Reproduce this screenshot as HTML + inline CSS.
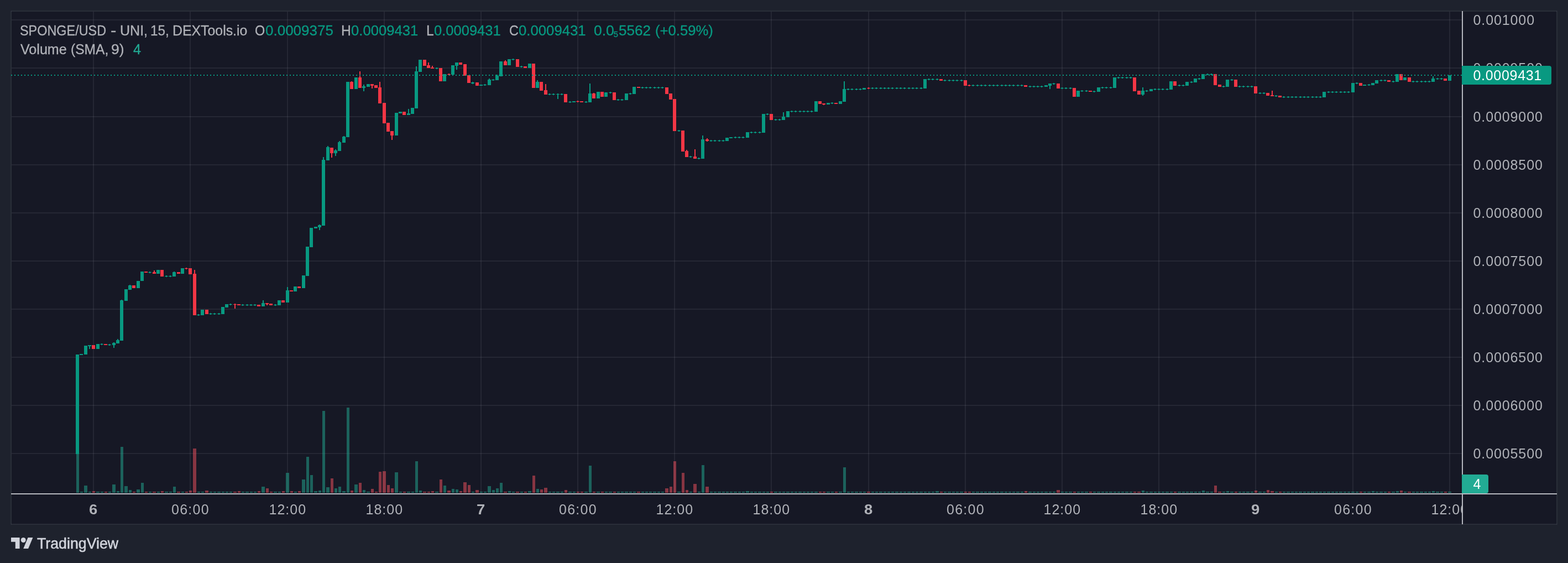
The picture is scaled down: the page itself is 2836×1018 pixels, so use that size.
<!DOCTYPE html>
<html lang="en"><head><meta charset="utf-8"><title>SPONGE/USD - TradingView</title>
<style>
html,body{margin:0;padding:0;background:#1e222d;}
body{width:2836px;height:1018px;position:relative;overflow:hidden;font-family:"Liberation Sans",sans-serif;}
.chart{position:absolute;left:0;top:0;display:block}
.t{position:absolute;white-space:nowrap;color:#b0b2b8;line-height:1;font-size:25px;transform-origin:0 0}
.legend .t{-webkit-text-stroke:0.3px currentColor}
.ax{letter-spacing:0.9px}
.tm.b{font-weight:bold}
.timeaxis{position:absolute;left:20px;top:894px;width:2624px;height:53px;overflow:hidden}
.timeaxis .t{margin-left:-20px;margin-top:-894px}
.lab{position:absolute;left:2644px;height:34px;border-radius:0 4px 4px 0}
.lab .t{color:#fff;top:5px;left:20.5px}
#plab{top:119px;width:162px;background:#089981}
#vlab{top:858px;width:48px;background:#22ab94}
.tv{color:#d1d4dc}
</style></head><body>
<svg class="chart" width="2836" height="1018" viewBox="0 0 2836 1018" shape-rendering="crispEdges">
<rect x="19" y="19" width="2798" height="930" fill="#161825"/>
<path d="M19 19h2798v930h-2798zM21 21v926h2794v-926z" fill="#2a2e39" fill-rule="evenodd"/>
<path d="M20 20h1v1h-1zM2815 20h1v1h-1zM20 947h1v1h-1zM2815 947h1v1h-1z" fill="#3a3d4a"/>
<path d="M19 19h1v1h-1zM2816 19h1v1h-1zM19 948h1v1h-1zM2816 948h1v1h-1z" fill="#242833"/>
<path d="M21 36H2644M21 123H2644M21 211H2644M21 298H2644M21 385H2644M21 472H2644M21 559H2644M21 646H2644M21 733H2644M21 820H2644" stroke="#f0f3fa" stroke-opacity="0.07" stroke-width="2" fill="none"/>
<path d="M169 21V892M344 21V892M520 21V892M695 21V892M870 21V892M1045 21V892M1220 21V892M1395 21V892M1571 21V892M1746 21V892M1921 21V892M2096 21V892M2271 21V892M2447 21V892M2622 21V892" stroke="#f0f3fa" stroke-opacity="0.07" stroke-width="2" fill="none"/>
<path d="M138 761h5v130h-5zM145 889h5v2h-5zM152 878h6v13h-6zM160 889h5v2h-5zM174 889h6v2h-6zM182 889h5v2h-5zM196 889h5v2h-5zM203 876h6v15h-6zM211 888h5v3h-5zM218 808h5v83h-5zM225 879h6v12h-6zM233 886h5v5h-5zM247 885h6v6h-6zM255 873h5v18h-5zM269 889h5v2h-5zM284 889h5v2h-5zM298 889h6v2h-6zM306 889h5v2h-5zM313 880h5v11h-5zM328 889h5v2h-5zM357 889h5v2h-5zM364 889h5v2h-5zM379 889h5v2h-5zM386 889h5v2h-5zM393 889h6v2h-6zM401 889h5v2h-5zM408 889h5v2h-5zM415 889h5v2h-5zM437 889h5v2h-5zM444 889h6v2h-6zM452 889h5v2h-5zM459 889h5v2h-5zM473 880h6v11h-6zM495 889h6v2h-6zM503 889h5v2h-5zM517 855h6v36h-6zM532 889h5v2h-5zM546 867h6v24h-6zM554 826h5v65h-5zM561 859h5v32h-5zM568 888h6v3h-6zM576 887h5v4h-5zM583 743h5v148h-5zM590 881h6v10h-6zM605 883h5v8h-5zM612 880h5v11h-5zM619 888h6v3h-6zM627 737h5v154h-5zM641 876h6v15h-6zM656 886h5v5h-5zM663 889h6v2h-6zM714 854h6v37h-6zM722 889h5v2h-5zM736 889h6v2h-6zM744 889h5v2h-5zM751 834h5v57h-5zM758 887h5v4h-5zM787 889h6v2h-6zM802 878h5v13h-5zM817 884h5v7h-5zM824 885h5v6h-5zM853 889h5v2h-5zM868 889h5v2h-5zM875 889h5v2h-5zM882 879h6v12h-6zM890 886h5v5h-5zM897 883h5v8h-5zM904 873h5v18h-5zM919 888h5v3h-5zM926 889h5v2h-5zM941 889h5v2h-5zM955 888h6v3h-6zM970 884h5v7h-5zM992 889h5v2h-5zM999 889h5v2h-5zM1006 889h6v2h-6zM1014 889h5v2h-5zM1028 889h6v2h-6zM1036 889h5v2h-5zM1057 889h6v2h-6zM1065 842h5v49h-5zM1079 889h6v2h-6zM1094 889h5v2h-5zM1101 889h6v2h-6zM1116 889h5v2h-5zM1123 889h5v2h-5zM1130 889h6v2h-6zM1138 889h5v2h-5zM1145 889h5v2h-5zM1160 889h5v2h-5zM1167 889h5v2h-5zM1174 889h5v2h-5zM1181 889h6v2h-6zM1189 889h5v2h-5zM1196 889h5v2h-5zM1225 889h6v2h-6zM1247 889h5v2h-5zM1262 889h5v2h-5zM1269 841h5v50h-5zM1284 889h5v2h-5zM1291 889h5v2h-5zM1298 889h6v2h-6zM1306 889h5v2h-5zM1313 889h5v2h-5zM1320 889h5v2h-5zM1327 889h6v2h-6zM1335 889h5v2h-5zM1342 889h5v2h-5zM1349 888h6v3h-6zM1357 889h5v2h-5zM1364 889h5v2h-5zM1371 889h6v2h-6zM1379 889h5v2h-5zM1386 889h5v2h-5zM1400 889h6v2h-6zM1408 889h5v2h-5zM1415 889h5v2h-5zM1422 889h6v2h-6zM1430 889h5v2h-5zM1437 889h5v2h-5zM1444 889h6v2h-6zM1452 889h5v2h-5zM1459 889h5v2h-5zM1466 889h5v2h-5zM1473 889h6v2h-6zM1495 889h6v2h-6zM1503 889h5v2h-5zM1517 889h6v2h-6zM1525 845h5v46h-5zM1532 889h5v2h-5zM1539 889h5v2h-5zM1546 889h6v2h-6zM1554 889h5v2h-5zM1561 889h5v2h-5zM1576 889h5v2h-5zM1583 889h5v2h-5zM1590 889h6v2h-6zM1598 889h5v2h-5zM1605 889h5v2h-5zM1612 889h5v2h-5zM1619 889h6v2h-6zM1627 889h5v2h-5zM1634 889h5v2h-5zM1641 889h6v2h-6zM1649 889h5v2h-5zM1656 889h5v2h-5zM1663 889h6v2h-6zM1671 889h5v2h-5zM1678 889h5v2h-5zM1685 889h5v2h-5zM1692 888h6v3h-6zM1707 889h5v2h-5zM1714 889h6v2h-6zM1722 889h5v2h-5zM1729 889h5v2h-5zM1736 889h6v2h-6zM1758 889h5v2h-5zM1765 889h6v2h-6zM1773 889h5v2h-5zM1780 889h5v2h-5zM1787 889h6v2h-6zM1795 889h5v2h-5zM1802 889h5v2h-5zM1809 889h6v2h-6zM1817 889h5v2h-5zM1824 889h5v2h-5zM1831 889h5v2h-5zM1838 889h6v2h-6zM1846 889h5v2h-5zM1860 889h6v2h-6zM1868 889h5v2h-5zM1875 889h5v2h-5zM1882 889h5v2h-5zM1889 889h6v2h-6zM1897 889h5v2h-5zM1904 889h5v2h-5zM1919 889h5v2h-5zM1926 889h5v2h-5zM1933 889h6v2h-6zM1948 889h5v2h-5zM1955 889h5v2h-5zM1962 889h6v2h-6zM1977 889h5v2h-5zM1984 889h6v2h-6zM1992 889h5v2h-5zM1999 889h5v2h-5zM2006 889h6v2h-6zM2014 889h5v2h-5zM2021 889h5v2h-5zM2028 889h5v2h-5zM2035 889h6v2h-6zM2043 889h5v2h-5zM2065 887h5v4h-5zM2072 889h5v2h-5zM2079 889h6v2h-6zM2087 889h5v2h-5zM2094 889h5v2h-5zM2101 889h5v2h-5zM2108 889h6v2h-6zM2116 889h5v2h-5zM2130 889h6v2h-6zM2138 889h5v2h-5zM2145 889h5v2h-5zM2152 889h6v2h-6zM2160 889h5v2h-5zM2167 889h5v2h-5zM2174 887h5v4h-5zM2181 889h6v2h-6zM2189 889h5v2h-5zM2211 889h5v2h-5zM2218 888h5v3h-5zM2225 889h6v2h-6zM2240 889h5v2h-5zM2247 889h5v2h-5zM2254 889h6v2h-6zM2262 889h5v2h-5zM2276 889h6v2h-6zM2284 889h5v2h-5zM2306 889h5v2h-5zM2320 889h5v2h-5zM2327 889h6v2h-6zM2335 889h5v2h-5zM2342 889h5v2h-5zM2349 889h6v2h-6zM2357 889h5v2h-5zM2364 889h5v2h-5zM2371 889h6v2h-6zM2379 889h5v2h-5zM2386 889h5v2h-5zM2393 889h5v2h-5zM2400 889h6v2h-6zM2408 889h5v2h-5zM2415 889h5v2h-5zM2422 889h6v2h-6zM2430 889h5v2h-5zM2437 889h5v2h-5zM2444 889h6v2h-6zM2452 889h5v2h-5zM2466 889h5v2h-5zM2473 889h6v2h-6zM2481 888h5v3h-5zM2488 889h5v2h-5zM2495 889h6v2h-6zM2503 889h5v2h-5zM2517 889h6v2h-6zM2525 888h5v3h-5zM2539 889h5v2h-5zM2554 889h5v2h-5zM2561 889h5v2h-5zM2568 889h6v2h-6zM2576 889h5v2h-5zM2583 889h5v2h-5zM2590 888h5v3h-5zM2597 889h6v2h-6zM2605 889h5v2h-5zM2619 889h6v2h-6z" fill="#22ab94" fill-opacity="0.5"/>
<path d="M167 888h5v3h-5zM189 889h5v2h-5zM240 889h5v2h-5zM262 889h5v2h-5zM276 889h6v2h-6zM291 888h5v3h-5zM320 889h6v2h-6zM335 889h5v2h-5zM342 887h5v4h-5zM349 811h6v80h-6zM371 887h6v4h-6zM422 889h6v2h-6zM430 888h5v3h-5zM466 888h5v3h-5zM481 883h5v8h-5zM488 889h5v2h-5zM510 888h5v3h-5zM525 888h5v3h-5zM539 888h5v3h-5zM598 865h5v26h-5zM634 887h5v4h-5zM649 873h5v18h-5zM671 884h5v7h-5zM678 889h5v2h-5zM685 853h5v38h-5zM692 852h6v39h-6zM700 877h5v14h-5zM707 883h5v8h-5zM729 889h5v2h-5zM765 889h6v2h-6zM773 889h5v2h-5zM780 888h5v3h-5zM795 867h5v24h-5zM809 887h6v4h-6zM831 888h5v3h-5zM838 872h6v19h-6zM846 877h5v14h-5zM860 886h6v5h-6zM911 889h6v2h-6zM933 889h6v2h-6zM948 889h5v2h-5zM963 860h5v31h-5zM977 885h5v6h-5zM984 882h6v9h-6zM1021 886h5v5h-5zM1043 889h5v2h-5zM1050 889h5v2h-5zM1072 889h5v2h-5zM1087 889h5v2h-5zM1109 889h5v2h-5zM1152 889h6v2h-6zM1203 883h6v8h-6zM1211 880h5v11h-5zM1218 834h5v57h-5zM1233 855h5v36h-5zM1240 886h5v5h-5zM1254 875h6v16h-6zM1276 880h6v11h-6zM1393 889h5v2h-5zM1481 889h5v2h-5zM1488 889h5v2h-5zM1510 889h5v2h-5zM1568 889h6v2h-6zM1700 889h5v2h-5zM1744 889h5v2h-5zM1751 889h5v2h-5zM1853 888h5v3h-5zM1911 886h6v5h-6zM1941 889h5v2h-5zM1970 889h5v2h-5zM2050 889h5v2h-5zM2057 889h6v2h-6zM2123 889h5v2h-5zM2196 878h5v13h-5zM2203 889h6v2h-6zM2233 889h5v2h-5zM2269 887h5v4h-5zM2291 886h5v5h-5zM2298 888h6v3h-6zM2313 889h5v2h-5zM2459 889h5v2h-5zM2510 889h5v2h-5zM2532 887h5v4h-5zM2546 889h6v2h-6zM2612 889h5v2h-5z" fill="#f7525f" fill-opacity="0.5"/>
<path d="M137 641h6v180h-6zM144 640h6v2h-6zM152 625h6v16h-6zM159 624h6v2h-6zM161 626h2v5h-2zM174 622h6v9h-6zM181 622h6v1h-6zM183 621h2v3h-2zM195 623h6v1h-6zM197 622h2v3h-2zM203 620h6v4h-6zM205 619h2v1h-2zM205 624h2v5h-2zM210 615h6v6h-6zM212 613h2v2h-2zM217 543h6v73h-6zM219 542h2v1h-2zM225 523h6v21h-6zM232 516h6v8h-6zM234 515h2v1h-2zM247 508h6v13h-6zM254 491h6v17h-6zM268 492h6v1h-6zM270 491h2v3h-2zM283 488h6v7h-6zM298 499h6v1h-6zM300 498h2v3h-2zM305 499h6v1h-6zM307 498h2v3h-2zM312 492h6v8h-6zM314 491h2v1h-2zM327 485h6v10h-6zM356 569h6v1h-6zM358 568h2v3h-2zM363 560h6v10h-6zM378 567h6v1h-6zM380 566h2v3h-2zM385 567h6v1h-6zM387 566h2v3h-2zM393 567h6v1h-6zM395 566h2v3h-2zM400 555h6v13h-6zM407 550h6v6h-6zM414 550h6v1h-6zM416 549h2v3h-2zM436 551h6v1h-6zM438 550h2v3h-2zM444 551h6v1h-6zM446 550h2v3h-2zM451 551h6v1h-6zM453 550h2v3h-2zM458 551h6v1h-6zM460 550h2v3h-2zM473 548h6v6h-6zM475 543h2v5h-2zM495 551h6v1h-6zM497 550h2v3h-2zM502 543h6v9h-6zM517 525h6v22h-6zM519 519h2v6h-2zM531 518h6v9h-6zM546 498h6v23h-6zM553 446h6v53h-6zM560 412h6v35h-6zM568 410h6v3h-6zM575 407h6v4h-6zM577 406h2v1h-2zM577 411h2v5h-2zM582 289h6v119h-6zM584 284h2v5h-2zM590 266h6v24h-6zM592 264h2v2h-2zM604 272h6v5h-6zM606 270h2v2h-2zM606 277h2v5h-2zM611 257h6v16h-6zM613 255h2v2h-2zM619 247h6v11h-6zM621 246h2v1h-2zM626 148h6v100h-6zM641 140h6v21h-6zM655 156h6v3h-6zM657 153h2v3h-2zM657 159h2v6h-2zM663 152h6v5h-6zM714 204h6v41h-6zM721 202h6v3h-6zM736 205h6v3h-6zM738 197h2v8h-2zM743 195h6v11h-6zM750 129h6v67h-6zM752 120h2v9h-2zM757 108h6v22h-6zM787 123h6v1h-6zM789 122h2v3h-2zM801 134h6v13h-6zM816 118h6v17h-6zM823 113h6v6h-6zM825 119h2v7h-2zM852 149h6v2h-6zM854 148h2v1h-2zM854 151h2v1h-2zM867 153h6v2h-6zM874 153h6v1h-6zM876 152h2v3h-2zM882 144h6v10h-6zM884 142h2v2h-2zM889 144h6v1h-6zM891 143h2v3h-2zM896 137h6v8h-6zM898 135h2v2h-2zM903 111h6v27h-6zM918 107h6v11h-6zM925 107h6v1h-6zM927 106h2v3h-2zM940 120h6v1h-6zM942 119h2v3h-2zM955 115h6v8h-6zM969 148h6v11h-6zM971 145h2v3h-2zM991 170h6v1h-6zM993 169h2v3h-2zM998 170h6v1h-6zM1000 169h2v3h-2zM1006 170h6v1h-6zM1008 169h2v1h-2zM1008 171h2v8h-2zM1013 170h6v1h-6zM1015 169h2v3h-2zM1028 184h6v1h-6zM1030 183h2v3h-2zM1035 183h6v2h-6zM1057 184h6v1h-6zM1059 183h2v3h-2zM1064 169h6v16h-6zM1066 151h2v18h-2zM1079 166h6v12h-6zM1093 167h6v8h-6zM1101 167h6v1h-6zM1103 166h2v3h-2zM1115 180h6v1h-6zM1117 179h2v3h-2zM1122 180h6v1h-6zM1124 179h2v3h-2zM1130 169h6v12h-6zM1137 169h6v1h-6zM1139 168h2v3h-2zM1144 157h6v13h-6zM1159 158h6v1h-6zM1161 157h2v3h-2zM1166 158h6v1h-6zM1168 157h2v3h-2zM1173 158h6v1h-6zM1175 157h2v3h-2zM1181 158h6v1h-6zM1183 157h2v3h-2zM1188 158h6v1h-6zM1190 157h2v3h-2zM1195 158h6v1h-6zM1197 157h2v3h-2zM1225 236h6v1h-6zM1227 235h2v3h-2zM1246 283h6v1h-6zM1248 282h2v3h-2zM1261 286h6v1h-6zM1263 285h2v3h-2zM1268 252h6v35h-6zM1270 245h2v7h-2zM1283 254h6v1h-6zM1285 253h2v3h-2zM1290 254h6v1h-6zM1292 253h2v3h-2zM1298 254h6v1h-6zM1300 253h2v3h-2zM1305 254h6v1h-6zM1307 253h2v3h-2zM1312 249h6v6h-6zM1319 248h6v2h-6zM1327 248h6v1h-6zM1329 247h2v3h-2zM1334 248h6v1h-6zM1336 247h2v3h-2zM1341 248h6v1h-6zM1343 247h2v3h-2zM1349 239h6v10h-6zM1356 239h6v1h-6zM1358 238h2v3h-2zM1363 239h6v1h-6zM1365 238h2v3h-2zM1371 239h6v1h-6zM1373 238h2v3h-2zM1378 206h6v34h-6zM1385 206h6v1h-6zM1387 205h2v3h-2zM1400 216h6v1h-6zM1402 215h2v3h-2zM1407 216h6v1h-6zM1409 215h2v3h-2zM1414 211h6v6h-6zM1416 203h2v8h-2zM1422 201h6v11h-6zM1429 201h6v1h-6zM1431 200h2v3h-2zM1436 201h6v1h-6zM1438 200h2v3h-2zM1444 201h6v1h-6zM1446 200h2v3h-2zM1451 201h6v1h-6zM1453 200h2v3h-2zM1458 201h6v1h-6zM1460 200h2v3h-2zM1465 201h6v1h-6zM1467 200h2v3h-2zM1473 183h6v19h-6zM1495 186h6v3h-6zM1502 186h6v1h-6zM1504 185h2v3h-2zM1517 183h6v5h-6zM1524 161h6v23h-6zM1526 147h2v14h-2zM1531 161h6v1h-6zM1533 160h2v3h-2zM1538 161h6v1h-6zM1540 160h2v3h-2zM1546 161h6v1h-6zM1548 160h2v3h-2zM1553 161h6v1h-6zM1555 160h2v3h-2zM1560 159h6v3h-6zM1575 159h6v1h-6zM1577 158h2v3h-2zM1582 159h6v1h-6zM1584 158h2v3h-2zM1590 159h6v1h-6zM1592 158h2v3h-2zM1597 159h6v1h-6zM1599 158h2v3h-2zM1604 159h6v1h-6zM1606 158h2v3h-2zM1611 159h6v1h-6zM1613 158h2v3h-2zM1619 159h6v1h-6zM1621 158h2v3h-2zM1626 159h6v1h-6zM1628 158h2v3h-2zM1633 159h6v1h-6zM1635 158h2v3h-2zM1641 159h6v1h-6zM1643 158h2v3h-2zM1648 159h6v1h-6zM1650 158h2v3h-2zM1655 159h6v1h-6zM1657 158h2v3h-2zM1663 159h6v1h-6zM1665 158h2v3h-2zM1670 143h6v17h-6zM1677 143h6v1h-6zM1679 142h2v3h-2zM1684 143h6v1h-6zM1686 142h2v3h-2zM1692 143h6v1h-6zM1694 142h2v3h-2zM1706 145h6v1h-6zM1708 144h2v3h-2zM1714 145h6v1h-6zM1716 144h2v3h-2zM1721 145h6v1h-6zM1723 144h2v3h-2zM1728 145h6v1h-6zM1730 144h2v3h-2zM1736 145h6v1h-6zM1738 144h2v3h-2zM1757 154h6v1h-6zM1759 153h2v3h-2zM1765 154h6v1h-6zM1767 153h2v3h-2zM1772 154h6v1h-6zM1774 153h2v3h-2zM1779 154h6v1h-6zM1781 153h2v3h-2zM1787 154h6v1h-6zM1789 153h2v3h-2zM1794 154h6v1h-6zM1796 153h2v3h-2zM1801 154h6v1h-6zM1803 153h2v3h-2zM1809 154h6v1h-6zM1811 153h2v3h-2zM1816 154h6v1h-6zM1818 153h2v3h-2zM1823 154h6v1h-6zM1825 153h2v3h-2zM1830 154h6v1h-6zM1832 153h2v3h-2zM1838 154h6v1h-6zM1840 153h2v3h-2zM1845 154h6v1h-6zM1847 153h2v3h-2zM1860 156h6v1h-6zM1862 155h2v3h-2zM1867 156h6v1h-6zM1869 155h2v3h-2zM1874 156h6v1h-6zM1876 155h2v3h-2zM1881 156h6v1h-6zM1883 155h2v3h-2zM1889 154h6v3h-6zM1896 151h6v4h-6zM1898 155h2v6h-2zM1903 151h6v1h-6zM1905 150h2v3h-2zM1918 159h6v1h-6zM1920 158h2v3h-2zM1925 159h6v1h-6zM1927 158h2v3h-2zM1933 159h6v1h-6zM1935 158h2v3h-2zM1947 164h6v11h-6zM1954 164h6v1h-6zM1956 163h2v3h-2zM1962 164h6v1h-6zM1964 163h2v3h-2zM1976 165h6v1h-6zM1978 164h2v3h-2zM1984 158h6v8h-6zM1991 158h6v1h-6zM1993 157h2v3h-2zM1998 158h6v1h-6zM2000 157h2v3h-2zM2006 158h6v1h-6zM2008 157h2v3h-2zM2013 140h6v19h-6zM2020 140h6v1h-6zM2022 139h2v3h-2zM2027 140h6v1h-6zM2029 139h2v3h-2zM2035 140h6v1h-6zM2037 139h2v3h-2zM2042 140h6v1h-6zM2044 139h2v3h-2zM2064 164h6v7h-6zM2066 158h2v6h-2zM2066 171h2v2h-2zM2071 164h6v1h-6zM2073 163h2v3h-2zM2079 161h6v4h-6zM2086 161h6v1h-6zM2088 160h2v3h-2zM2093 161h6v1h-6zM2095 160h2v3h-2zM2100 161h6v1h-6zM2102 160h2v3h-2zM2108 161h6v1h-6zM2110 160h2v3h-2zM2115 147h6v15h-6zM2130 154h6v1h-6zM2132 153h2v3h-2zM2137 154h6v1h-6zM2139 153h2v3h-2zM2144 148h6v7h-6zM2152 148h6v1h-6zM2154 147h2v3h-2zM2159 142h6v7h-6zM2166 142h6v1h-6zM2168 141h2v3h-2zM2173 134h6v9h-6zM2181 134h6v1h-6zM2183 133h2v3h-2zM2188 134h6v1h-6zM2190 133h2v3h-2zM2210 156h6v1h-6zM2212 155h2v3h-2zM2217 144h6v13h-6zM2225 144h6v1h-6zM2227 143h2v3h-2zM2239 156h6v1h-6zM2241 155h2v3h-2zM2246 156h6v1h-6zM2248 155h2v3h-2zM2254 156h6v1h-6zM2256 155h2v3h-2zM2261 156h6v1h-6zM2263 155h2v3h-2zM2276 168h6v1h-6zM2278 167h2v3h-2zM2283 168h6v1h-6zM2285 167h2v3h-2zM2305 173h6v1h-6zM2307 172h2v3h-2zM2319 175h6v1h-6zM2321 174h2v3h-2zM2327 175h6v1h-6zM2329 174h2v3h-2zM2334 175h6v1h-6zM2336 174h2v3h-2zM2341 175h6v1h-6zM2343 174h2v3h-2zM2349 175h6v1h-6zM2351 174h2v3h-2zM2356 175h6v1h-6zM2358 174h2v3h-2zM2363 175h6v1h-6zM2365 174h2v3h-2zM2371 175h6v1h-6zM2373 174h2v3h-2zM2378 175h6v1h-6zM2380 174h2v3h-2zM2385 175h6v1h-6zM2387 174h2v3h-2zM2392 166h6v10h-6zM2400 166h6v1h-6zM2402 165h2v3h-2zM2407 166h6v1h-6zM2409 165h2v3h-2zM2414 166h6v1h-6zM2416 165h2v3h-2zM2422 166h6v1h-6zM2424 165h2v3h-2zM2429 166h6v1h-6zM2431 165h2v3h-2zM2436 166h6v1h-6zM2438 165h2v3h-2zM2444 150h6v17h-6zM2451 150h6v1h-6zM2453 149h2v3h-2zM2465 153h6v2h-6zM2473 153h6v1h-6zM2475 152h2v3h-2zM2480 150h6v4h-6zM2487 145h6v6h-6zM2495 145h6v1h-6zM2497 144h2v3h-2zM2502 145h6v1h-6zM2504 144h2v3h-2zM2517 147h6v1h-6zM2519 146h2v3h-2zM2524 134h6v14h-6zM2538 140h6v5h-6zM2553 147h6v1h-6zM2555 146h2v3h-2zM2560 147h6v1h-6zM2562 146h2v3h-2zM2568 147h6v1h-6zM2570 146h2v3h-2zM2575 147h6v1h-6zM2577 146h2v3h-2zM2582 147h6v1h-6zM2584 146h2v3h-2zM2589 142h6v6h-6zM2591 138h2v4h-2zM2597 142h6v1h-6zM2599 141h2v3h-2zM2604 142h6v1h-6zM2606 141h2v3h-2zM2619 136h6v10h-6z" fill="#089981"/>
<path d="M166 624h6v7h-6zM188 622h6v2h-6zM239 516h6v5h-6zM261 491h6v2h-6zM276 492h6v3h-6zM278 489h2v3h-2zM290 488h6v12h-6zM320 492h6v3h-6zM334 485h6v1h-6zM336 484h2v3h-2zM341 485h6v11h-6zM349 495h6v75h-6zM351 488h2v7h-2zM371 560h6v8h-6zM422 550h6v1h-6zM424 549h2v1h-2zM424 551h2v7h-2zM429 550h6v2h-6zM465 551h6v3h-6zM480 548h6v2h-6zM482 550h2v2h-2zM487 549h6v3h-6zM509 543h6v4h-6zM524 525h6v2h-6zM538 518h6v3h-6zM597 267h6v10h-6zM599 277h2v8h-2zM633 148h6v13h-6zM635 147h2v1h-2zM648 140h6v19h-6zM650 129h2v11h-2zM670 152h6v3h-6zM672 155h2v5h-2zM677 154h6v5h-6zM684 158h6v29h-6zM686 148h2v10h-2zM692 186h6v37h-6zM699 222h6v16h-6zM706 237h6v8h-6zM708 245h2v8h-2zM728 202h6v6h-6zM765 108h6v11h-6zM772 118h6v5h-6zM774 113h2v5h-2zM779 122h6v2h-6zM781 119h2v3h-2zM794 123h6v24h-6zM809 134h6v1h-6zM811 133h2v3h-2zM830 113h6v4h-6zM838 116h6v21h-6zM845 136h6v14h-6zM860 149h6v6h-6zM911 111h6v7h-6zM913 109h2v2h-2zM933 107h6v14h-6zM947 120h6v3h-6zM962 115h6v44h-6zM976 148h6v16h-6zM984 163h6v8h-6zM986 152h2v11h-2zM1020 170h6v15h-6zM1042 183h6v1h-6zM1044 182h2v3h-2zM1049 183h6v2h-6zM1071 169h6v9h-6zM1073 168h2v1h-2zM1086 166h6v9h-6zM1108 167h6v14h-6zM1152 157h6v2h-6zM1203 158h6v12h-6zM1210 169h6v11h-6zM1217 179h6v58h-6zM1232 236h6v38h-6zM1239 273h6v11h-6zM1241 271h2v2h-2zM1254 283h6v4h-6zM1256 270h2v13h-2zM1276 252h6v3h-6zM1278 250h2v2h-2zM1278 255h2v1h-2zM1392 206h6v11h-6zM1480 183h6v5h-6zM1487 187h6v2h-6zM1489 189h2v1h-2zM1509 186h6v2h-6zM1568 159h6v1h-6zM1570 158h2v3h-2zM1699 143h6v3h-6zM1743 145h6v10h-6zM1750 154h6v1h-6zM1752 153h2v3h-2zM1852 154h6v3h-6zM1911 151h6v9h-6zM1940 159h6v16h-6zM1969 164h6v2h-6zM2049 140h6v25h-6zM2057 164h6v7h-6zM2122 147h6v8h-6zM2195 134h6v20h-6zM2203 153h6v4h-6zM2232 144h6v13h-6zM2268 156h6v13h-6zM2290 168h6v5h-6zM2298 172h6v2h-6zM2300 164h2v8h-2zM2312 173h6v3h-6zM2458 150h6v5h-6zM2509 145h6v3h-6zM2531 134h6v11h-6zM2546 140h6v8h-6zM2611 142h6v4h-6z" fill="#f23645"/>
<path d="M20 136H2644" stroke="#089981" stroke-width="2" stroke-dasharray="2 4" fill="none"/>
<rect x="20" y="892" width="2796" height="2" fill="#b6b8bf"/>
<rect x="2644" y="20" width="2" height="928" fill="#b6b8bf"/>
<g transform="translate(20 967.6) scale(1.111)" fill="#d1d4dc" shape-rendering="auto"><path d="M14 22H7V11H0V4h14v18z"/><path d="M28 22h-8l7.5-18h8L28 22z"/><circle cx="20" cy="8" r="4"/></g>
</svg>
<div class="priceaxis"><span class="t ax" style="left:2664.5px;top:24px">0.001000</span><span class="t ax" style="left:2664.5px;top:111px">0.0009500</span><span class="t ax" style="left:2664.5px;top:199px">0.0009000</span><span class="t ax" style="left:2664.5px;top:286px">0.0008500</span><span class="t ax" style="left:2664.5px;top:373px">0.0008000</span><span class="t ax" style="left:2664.5px;top:460px">0.0007500</span><span class="t ax" style="left:2664.5px;top:547px">0.0007000</span><span class="t ax" style="left:2664.5px;top:634px">0.0006500</span><span class="t ax" style="left:2664.5px;top:721px">0.0006000</span><span class="t ax" style="left:2664.5px;top:808px">0.0005500</span></div>
<div class="timeaxis"><span class="t tm b" style="left:160.5px;top:909px;transform:scaleX(1.1)">6</span><span class="t tm" style="left:310.0px;top:909px;letter-spacing:1.25px">06:00</span><span class="t tm" style="left:486.5px;top:909px;letter-spacing:1.0px">12:00</span><span class="t tm" style="left:661.5px;top:909px;letter-spacing:1.0px">18:00</span><span class="t tm b" style="left:861.5px;top:909px;transform:scaleX(1.1)">7</span><span class="t tm" style="left:1011.0px;top:909px;letter-spacing:1.25px">06:00</span><span class="t tm" style="left:1186.5px;top:909px;letter-spacing:1.0px">12:00</span><span class="t tm" style="left:1361.5px;top:909px;letter-spacing:1.0px">18:00</span><span class="t tm b" style="left:1562.5px;top:909px;transform:scaleX(1.1)">8</span><span class="t tm" style="left:1712.0px;top:909px;letter-spacing:1.25px">06:00</span><span class="t tm" style="left:1887.5px;top:909px;letter-spacing:1.0px">12:00</span><span class="t tm" style="left:2062.5px;top:909px;letter-spacing:1.0px">18:00</span><span class="t tm b" style="left:2262.5px;top:909px;transform:scaleX(1.1)">9</span><span class="t tm" style="left:2413.0px;top:909px;letter-spacing:1.25px">06:00</span><span class="t tm" style="left:2588.5px;top:909px;letter-spacing:1.0px">12:00</span></div>
<div class="lab" id="plab"><span class="t" style="letter-spacing:0.7px">0.0009431</span></div>
<div class="lab" id="vlab"><span class="t">4</span></div>
<div class="legend">
<span class="t" id="a1" style="left:36.0px;top:43px;font-size:25.5px;transform:scaleX(0.9183);">SPONGE/USD</span>
<span class="t" id="a2" style="left:200.0px;top:43px;font-size:25.5px;transform:scaleX(1.2235);">-</span>
<span class="t" id="a3" style="left:217.1px;top:43px;font-size:25.5px;transform:scaleX(0.9817);">UNI,</span>
<span class="t" id="a4" style="left:272.0px;top:43px;font-size:25.5px;transform:scaleX(0.95);">15,</span>
<span class="t" id="a5" style="left:311.6px;top:43px;font-size:25.5px;transform:scaleX(0.9743);">DEXTools.io</span>
<span class="t" id="lO" style="left:461.0px;top:43px;font-size:25.5px;transform:scaleX(0.9176);">O</span>
<span class="t" id="vO" style="left:480.2px;top:43px;font-size:25.5px;transform:scaleX(1.0196);color:#089981;">0.0009375</span>
<span class="t" id="lH" style="left:617.0px;top:43px;font-size:25.5px;transform:scaleX(0.9686);">H</span>
<span class="t" id="vH" style="left:635.3px;top:43px;font-size:25.5px;transform:scaleX(1.0064);color:#089981;">0.0009431</span>
<span class="t" id="lL" style="left:770.9px;top:43px;font-size:25.5px;transform:scaleX(0.9686);">L</span>
<span class="t" id="vL" style="left:785.4px;top:43px;font-size:25.5px;transform:scaleX(1.0013);color:#089981;">0.0009431</span>
<span class="t" id="lC" style="left:921.0px;top:43px;font-size:25.5px;transform:scaleX(0.9176);">C</span>
<span class="t" id="vC" style="left:938.3px;top:43px;font-size:25.5px;transform:scaleX(1.0094);color:#089981;">0.0009431</span>
<span class="t" id="vD1" style="left:1074.3px;top:43px;font-size:25.5px;transform:scaleX(1.04);color:#089981;">0.0</span>
<span class="t" id="vDs" style="left:1109.0px;top:45px;font-size:24px;transform:scaleX(0.9967);color:#089981;">&#8325;</span>
<span class="t" id="vD2" style="left:1118.6px;top:43px;font-size:25.5px;transform:scaleX(1.0247);color:#089981;">5562</span>
<span class="t" id="vP" style="left:1185.2px;top:43px;font-size:25.5px;transform:scaleX(1.0064);color:#089981;">(+0.59%)</span>
<span class="t" id="b1" style="left:36.5px;top:77px;font-size:25.5px;transform:scaleX(0.984);">Volume</span>
<span class="t" id="b2" style="left:127.8px;top:77px;font-size:25.5px;transform:scaleX(0.9636);">(SMA,</span>
<span class="t" id="b3" style="left:201.4px;top:77px;font-size:25.5px;transform:scaleX(1.0403);">9)</span>
<span class="t" id="l2v" style="left:241.0px;top:77px;font-size:25.5px;transform:scaleX(0.989);color:#22ab94;">4</span>
</div>
<span class="t tv" id="tv" style="left:67.1px;top:969px;font-size:27.5px;transform:scaleX(0.972);-webkit-text-stroke:0.55px currentColor">TradingView</span>
</body></html>
